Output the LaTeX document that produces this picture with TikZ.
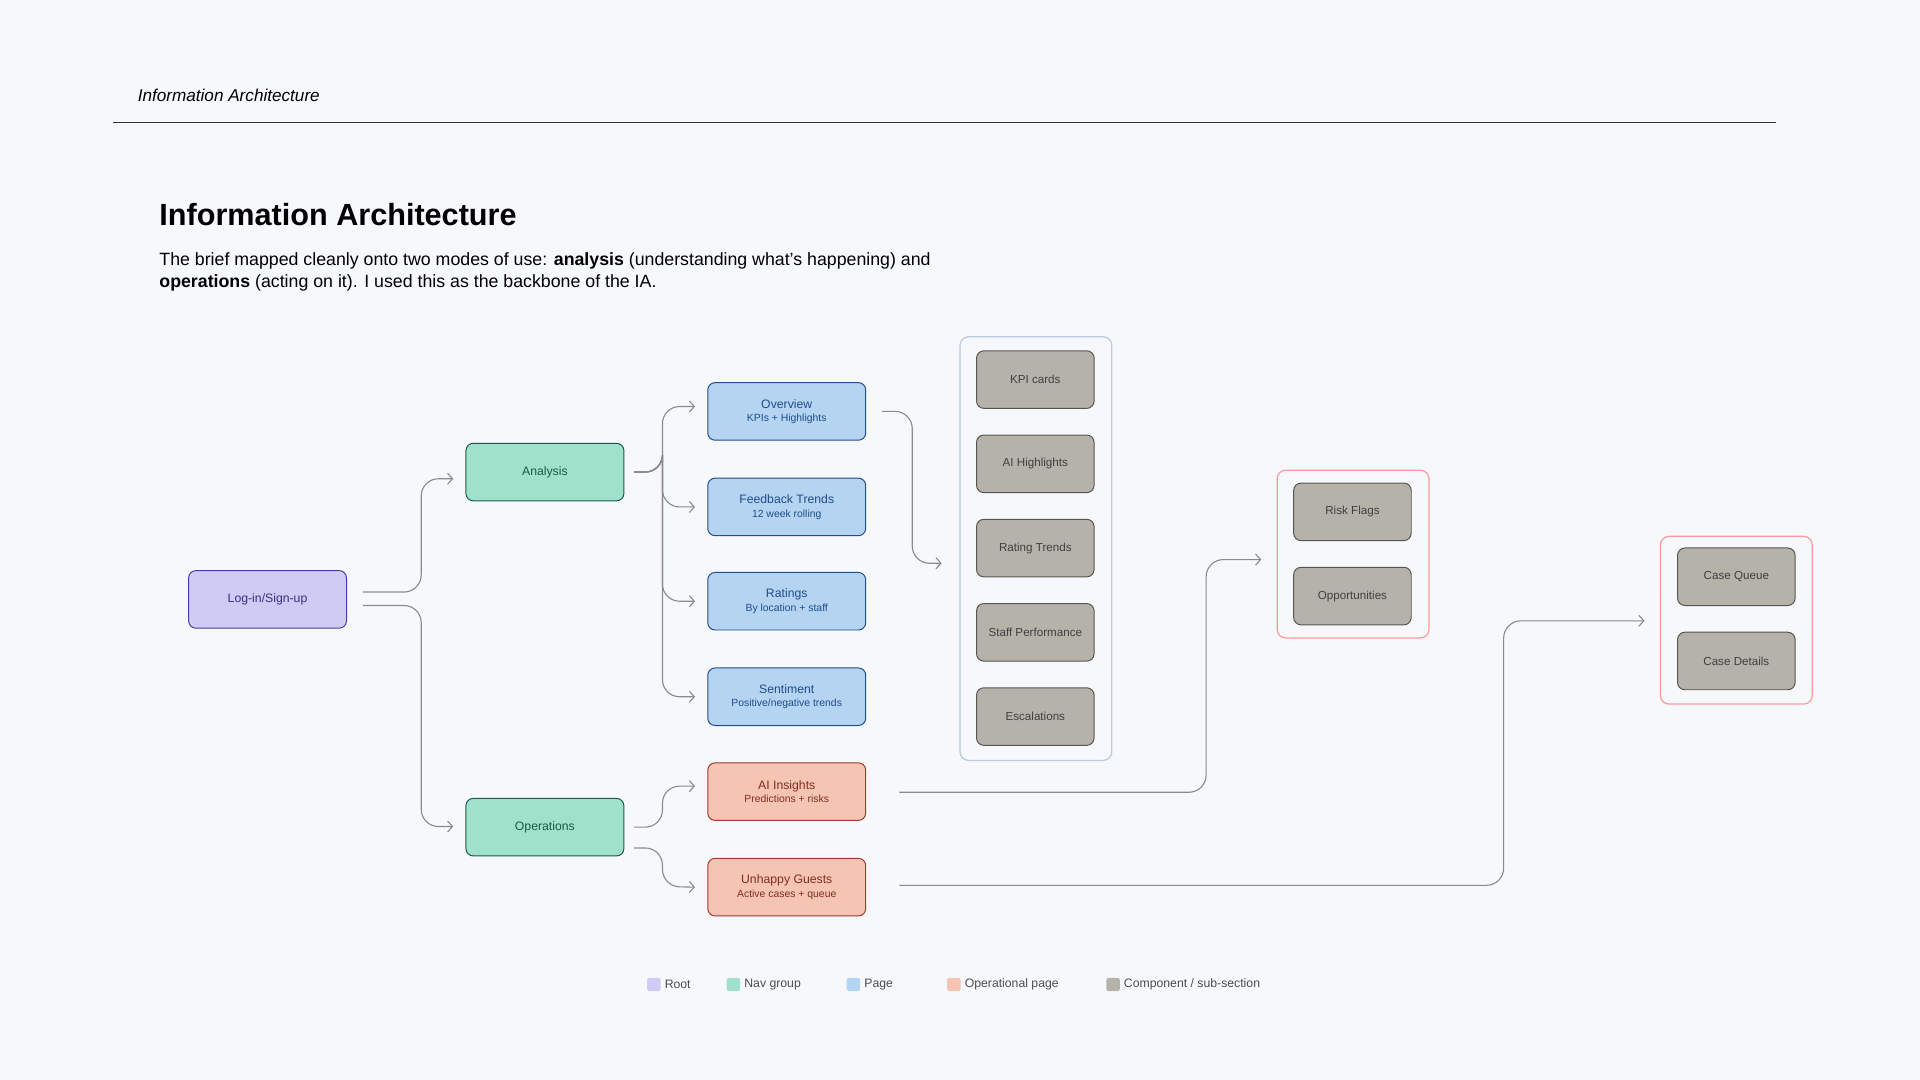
\documentclass[tikz,border=0pt]{standalone}
\usepackage{fontspec}
\setmainfont{Liberation Sans}
\usetikzlibrary{arrows.meta,calc,positioning}
\definecolor{bg}{HTML}{F7F8FC}
\definecolor{rootfill}{HTML}{CFCBF5}
\definecolor{rootline}{HTML}{4B3A9E}
\definecolor{navfill}{HTML}{A0E1CC}
\definecolor{navline}{HTML}{1A5A48}
\definecolor{pagefill}{HTML}{B4D4F2}
\definecolor{pageline}{HTML}{1F4E8C}
\definecolor{opfill}{HTML}{F5C4B2}
\definecolor{opline}{HTML}{A03A2A}
\definecolor{compfill}{HTML}{B5B2AA}
\definecolor{compline}{HTML}{57554F}
\definecolor{wire}{HTML}{8A8A8A}
\begin{document}
\begin{tikzpicture}[x=1pt, y=-1pt, %
  box/.style={rectangle, rounded corners=6pt, minimum width=129pt, minimum height=47pt, align=center, line width=0.8pt}, %
  root/.style={box, fill=rootfill, draw=rootline, text=rootline!80!black, font=\fontsize{10}{12}\selectfont}, %
  nav/.style={box, fill=navfill, draw=navline, text=navline, font=\fontsize{10}{12}\selectfont}, %
  page/.style={box, fill=pagefill, draw=pageline, text=pageline, font=\fontsize{10}{12}\selectfont}, %
  oppage/.style={box, fill=opfill, draw=opline, text=opline!80!black, font=\fontsize{10}{12}\selectfont}, %
  comp/.style={box, minimum width=96pt, fill=compfill, draw=compline, text=black!75, font=\fontsize{9.5}{12}\selectfont}, %
  group/.style={rectangle, rounded corners=7pt, line width=1pt}, %
  wire/.style={draw=wire, line width=0.9pt, rounded corners=14pt, -{Straight Barb[length=4pt,width=9pt]}}, %
  key/.style={rectangle, rounded corners=2pt, minimum size=11pt, inner sep=0pt}, %
  keytext/.style={right=3pt, font=\fontsize{10}{12}\selectfont, text=black!70, inner sep=0pt}]
\fill[bg] (0,0) rectangle (1568,882);
\useasboundingbox (0,0) rectangle (1568,882);
% header
\node[anchor=west, font=\fontsize{14}{16}\selectfont\itshape] (hdr) at (109,78) {Information Architecture};
\draw[black!80, line width=1pt] (92,100) -- (1450,100);
\node[anchor=west, font=\fontsize{25}{30}\selectfont\bfseries, inner sep=0pt] (title) at (130,175) {Information Architecture};
\node[anchor=north west, align=left, font=\fontsize{14.5}{18}\selectfont, inner sep=0pt] (intro) at (130,206)
  {The brief mapped cleanly onto two modes of use: \textbf{analysis} (understanding what's happening) and\\
   \textbf{operations} (acting on it). I used this as the backbone of the IA.};
% groups
\draw[group, draw=pageline!30, fill=bg] (784,275) rectangle (908,621);
\draw[group, draw=red!40] (1043,384) rectangle (1167,521);
\draw[group, draw=red!40] (1356,438) rectangle (1480,575);
% nodes
\node[root] (login) at (218.5,489.5) {Log-in/Sign-up};
\node[nav] (analysis) at (445,385.5) {Analysis};
\node[nav] (operations) at (445,675.5) {Operations};
\node[page] (overview) at (642.5,336) {Overview\\[-1pt]{\fontsize{8.5}{10}\selectfont KPIs + Highlights}};
\node[page] (feedback) at (642.5,414) {Feedback Trends\\[-1pt]{\fontsize{8.5}{10}\selectfont 12 week rolling}};
\node[page] (ratings) at (642.5,491) {Ratings\\[-1pt]{\fontsize{8.5}{10}\selectfont By location + staff}};
\node[page] (sentiment) at (642.5,569) {Sentiment\\[-1pt]{\fontsize{8.5}{10}\selectfont Positive/negative trends}};
\node[oppage] (insights) at (642.5,646.5) {AI Insights\\[-1pt]{\fontsize{8.5}{10}\selectfont Predictions + risks}};
\node[oppage] (unhappy) at (642.5,724.5) {Unhappy Guests\\[-1pt]{\fontsize{8.5}{10}\selectfont Active cases + queue}};
\node[comp] (kpi) at (845.5,310) {KPI cards};
\node[comp, below=21pt of kpi] (aihigh) {AI Highlights};
\node[comp, below=21pt of aihigh] (rtrend) {Rating Trends};
\node[comp, below=21pt of rtrend] (staff) {Staff Performance};
\node[comp, below=21pt of staff] (escal) {Escalations};
\node[comp] (risk) at (1104.5,418) {Risk Flags};
\node[comp, below=21pt of risk] (opps) {Opportunities};
\node[comp] (queue) at (1418,471) {Case Queue};
\node[comp, below=21pt of queue] (details) {Case Details};
% connector ends
\coordinate (blueIn) at (769,460);
\coordinate (riskIn) at (1030,457);
\coordinate (caseIn) at (1343,507);
% connectors
\draw[wire] ($(login.east)+(13,-6)$) -| (344,391) -- ($(analysis.west)+(-10,5.5)$);
\draw[wire] ($(login.east)+(13,5)$) -| (344,675) -- ($(operations.west)+(-10,-0.5)$);
\foreach \pg/\dy in {overview/-4,feedback/0,ratings/0,sentiment/0}
  \draw[wire] ($(analysis.east)+(8,0)$) -| (541,385.5) |- ($(\pg.west)+(-10,\dy)$);
\draw[wire] ($(operations.east)+(8,0)$) -| (541,642) -- ($(insights.west)+(-10,-4.5)$);
\draw[wire] ($(operations.east)+(8,17)$) -| (541,724) -- ($(unhappy.west)+(-10,0)$);
\draw[wire] ($(overview.east)+(13,0)$) -| (745,460) -- (blueIn);
\draw[wire] ($(insights.east)+(27,0.5)$) -| (985,457) -- (riskIn);
\draw[wire] ($(unhappy.east)+(27,-1.5)$) -| (1228,507) -- (caseIn);
% legend
\node[key, fill=rootfill] (k1) at (534,804) {};
\node[keytext] at (k1.east) {Root};
\node[key, fill=navfill] (k2) at (599,804) {};
\node[keytext] at (k2.east) {Nav group};
\node[key, fill=pagefill] (k3) at (697,804) {};
\node[keytext] at (k3.east) {Page};
\node[key, fill=opfill] (k4) at (779,804) {};
\node[keytext] at (k4.east) {Operational page};
\node[key, fill=compfill] (k5) at (909,804) {};
\node[keytext] at (k5.east) {Component / sub-section};
\end{tikzpicture}
\end{document}
